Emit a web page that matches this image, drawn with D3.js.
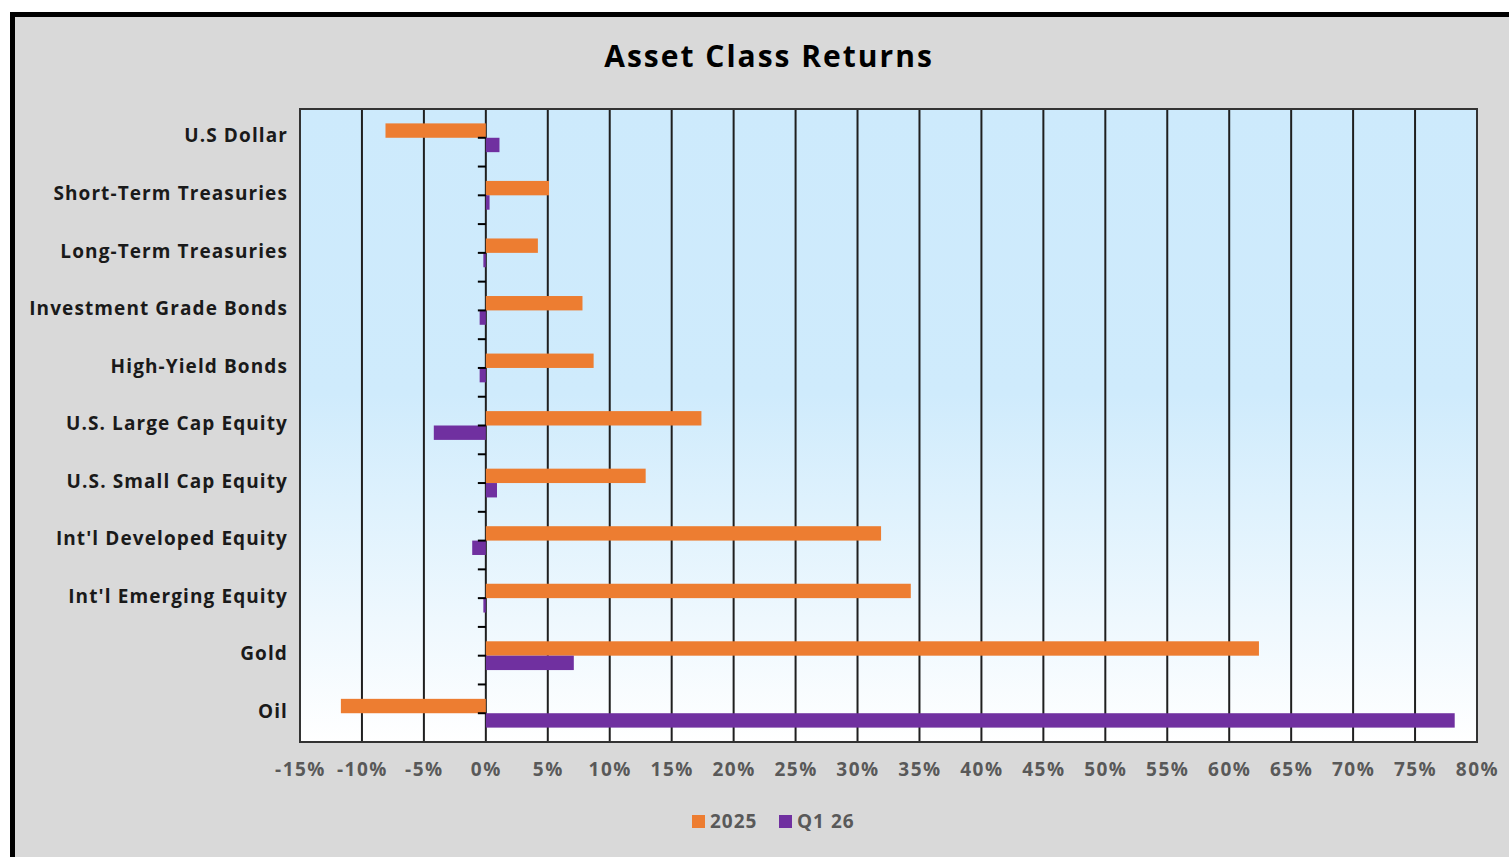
<!DOCTYPE html>
<html>
<head>
<meta charset="utf-8">
<script src="https://cdn.jsdelivr.net/npm/d3@7"></script>
<style>
  body { margin: 0; background: #fff; }
  svg { display: block; font-family: "Open Sans", "Liberation Sans", sans-serif; }
</style>
</head>
<body>
<div id="wrapper"></div>
<script>
// data (percent returns)
const categories = [
  "U.S Dollar", "Short-Term Treasuries", "Long-Term Treasuries",
  "Investment Grade Bonds", "High-Yield Bonds", "U.S. Large Cap Equity",
  "U.S. Small Cap Equity", "Int'l Developed Equity", "Int'l Emerging Equity",
  "Gold", "Oil"
];
const seriesNames = ["2025", "Q1 26"];
const returns2025 = [-8.1, 5.1, 4.2, 7.8, 8.7, 17.4, 12.9, 31.9, 34.3, 62.4, -11.7];
const returnsQ126 = [1.1, 0.3, -0.2, -0.5, -0.5, -4.2, 0.9, -1.1, -0.2, 7.1, 78.2];
const xTicks = [-15, -10, -5, 0, 5, 10, 15, 20, 25, 30, 35, 40, 45, 50, 55, 60, 65, 70, 75, 80];
const colors = ["#ED7D31", "#7030A0"];

async function drawChart() {
  let dimensions = {
    width: 1509,
    height: 857,
    margins: { top: 109, right: 32, bottom: 115, left: 300 }
  };
  dimensions.boundedWidth = dimensions.width - dimensions.margins.left - dimensions.margins.right;
  dimensions.boundedHeight = dimensions.height - dimensions.margins.top - dimensions.margins.bottom;

  const wrapper = d3.select("#wrapper")
    .append("svg")
    .attr("width", dimensions.width)
    .attr("height", dimensions.height);

  // gradient for the plot area
  const defs = wrapper.append("defs");
  const grad = defs.append("linearGradient")
    .attr("id", "plotBg")
    .attr("x1", 0).attr("y1", 0).attr("x2", 0).attr("y2", 1);
  grad.append("stop").attr("offset", "0%").attr("stop-color", "#cdeafc");
  grad.append("stop").attr("offset", "45%").attr("stop-color", "#cfebfc");
  grad.append("stop").attr("offset", "100%").attr("stop-color", "#ffffff");

  // outer frame
  wrapper.append("rect")
    .attr("x", 12.5).attr("y", 14.5)
    .attr("width", dimensions.width).attr("height", dimensions.height)
    .attr("fill", "#d9d9d9")
    .attr("stroke", "#000")
    .attr("stroke-width", 5);

  wrapper.append("text")
    .attr("x", 769).attr("y", 67)
    .attr("text-anchor", "middle")
    .attr("font-size", 30)
    .attr("font-weight", 700)
    .attr("letter-spacing", 2)
    .attr("fill", "#000")
    .text("Asset Class Returns");

  const bounds = wrapper.append("g")
    .attr("transform", `translate(${dimensions.margins.left},${dimensions.margins.top})`);

  // scales
  const xScale = d3.scaleLinear()
    .domain([-15, 80])
    .range([0, dimensions.boundedWidth]);

  const yScale = d3.scaleBand()
    .domain(categories)
    .range([0, dimensions.boundedHeight])
    .paddingInner(0.5)
    .paddingOuter(0.25);

  const subScale = d3.scaleBand()
    .domain(seriesNames)
    .range([0, yScale.bandwidth()]);

  bounds.append("rect")
    .attr("width", dimensions.boundedWidth)
    .attr("height", dimensions.boundedHeight)
    .attr("fill", "url(#plotBg)");

  // vertical gridlines
  bounds.append("g")
    .selectAll("line")
    .data(xTicks.slice(1, -1))
    .join("line")
    .attr("x1", d => xScale(d)).attr("x2", d => xScale(d))
    .attr("y1", 0).attr("y2", dimensions.boundedHeight)
    .attr("stroke", "#1f1f1f")
    .attr("stroke-width", 2);

  // bars
  const series = [returns2025, returnsQ126];
  series.forEach((vals, si) => {
    bounds.append("g")
      .selectAll("rect")
      .data(vals)
      .join("rect")
      .attr("x", d => xScale(Math.min(0, d)))
      .attr("width", d => Math.abs(xScale(d) - xScale(0)))
      .attr("y", (d, i) => yScale(categories[i]) + subScale(seriesNames[si]))
      .attr("height", subScale.bandwidth())
      .attr("fill", colors[si]);
  });

  // category axis on the zero line, with ticks every half band
  const step = yScale.step();
  const tickYs = d3.range(1, categories.length * 2).map(k => k * step / 2);
  bounds.append("g")
    .selectAll("line")
    .data(tickYs)
    .join("line")
    .attr("x1", xScale(0) - 8).attr("x2", xScale(0))
    .attr("y1", d => d).attr("y2", d => d)
    .attr("stroke", "#000")
    .attr("stroke-width", 2);

  // category labels
  bounds.append("g")
    .selectAll("text")
    .data(categories)
    .join("text")
    .attr("x", -12)
    .attr("y", d => yScale(d) + yScale.bandwidth() / 2 - 2)
    .attr("dy", "0.35em")
    .attr("text-anchor", "end")
    .attr("font-size", 19)
    .attr("font-weight", 700)
    .attr("letter-spacing", 1.1)
    .attr("fill", "#1a1a1a")
    .text(d => d);

  // plot border
  bounds.append("rect")
    .attr("width", dimensions.boundedWidth)
    .attr("height", dimensions.boundedHeight)
    .attr("fill", "none")
    .attr("stroke", "#333")
    .attr("stroke-width", 2);

  // x axis
  const xAxisGenerator = d3.axisBottom(xScale)
    .tickValues(xTicks)
    .tickFormat(d => d + "%")
    .tickSize(0)
    .tickPadding(21);
  const xAxis = bounds.append("g")
    .attr("transform", `translate(0,${dimensions.boundedHeight})`)
    .call(xAxisGenerator);
  xAxis.select(".domain").remove();
  xAxis.selectAll("text")
    .attr("font-size", 19)
    .attr("font-weight", 700)
    .attr("letter-spacing", 1.5)
    .attr("fill", "#595959")
    .attr("font-family", "'Open Sans', sans-serif");

  // legend
  const legend = wrapper.append("g").attr("transform", "translate(692,821)");
  const legendX = [0, 87];
  seriesNames.forEach((name, i) => {
    const item = legend.append("g").attr("transform", `translate(${legendX[i]},0)`);
    item.append("rect")
      .attr("x", 0).attr("y", -6)
      .attr("width", 13).attr("height", 13)
      .attr("fill", colors[i]);
    item.append("text")
      .attr("x", 18).attr("y", 0)
      .attr("dy", "0.35em")
      .attr("font-size", 19)
      .attr("font-weight", 700)
      .attr("letter-spacing", 1)
      .attr("fill", "#595959")
      .text(name);
  });
}

drawChart();
</script>
</body>
</html>
